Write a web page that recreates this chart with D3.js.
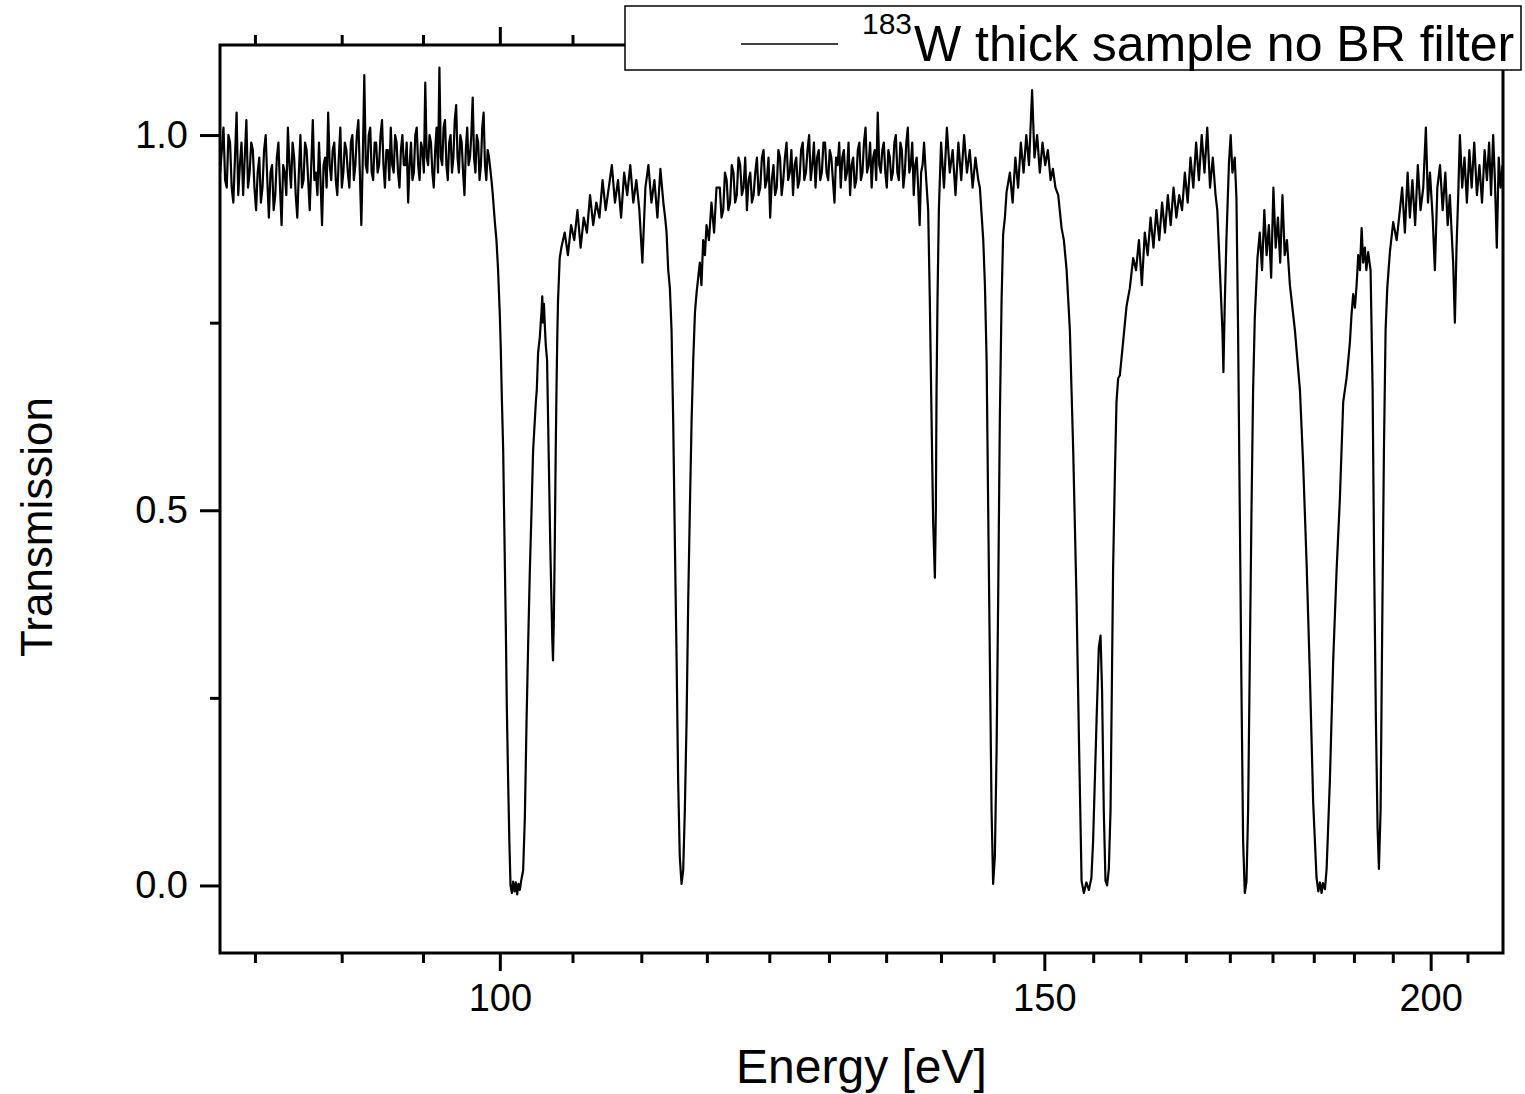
<!DOCTYPE html>
<html>
<head>
<meta charset="utf-8">
<script src="https://cdn.jsdelivr.net/npm/d3@7"></script>
<style>
  body { margin: 0; background: #fff; }
  text { font-family: "Liberation Sans", Arial, sans-serif; fill: #000; }
</style>
</head>
<body>
<div id="chart"></div>
<script>

// energy axis values [eV]
const energy = [
    // flat region below the first resonance
    81.2, 81.3, 81.4, 81.5, 81.6, 81.7, 81.8, 81.9, 82.0, 82.1, 82.2, 82.3, 82.4, 82.5, 82.6, 82.7, 82.8, 82.9, 83.0, 83.1,
    83.2, 83.3, 83.4, 83.5, 83.6, 83.7, 83.8, 83.9, 84.0, 84.1, 84.2, 84.3, 84.4, 84.5, 84.6, 84.7, 84.8, 84.9, 85.0, 85.1,
    85.2, 85.3, 85.4, 85.5, 85.6, 85.7, 85.8, 85.9, 86.0, 86.1, 86.2, 86.3, 86.4, 86.5, 86.6, 86.7, 86.8, 86.9, 87.0, 87.1,
    87.2, 87.3, 87.4, 87.5, 87.6, 87.7, 87.8, 87.9, 88.0, 88.1, 88.2, 88.3, 88.4, 88.5, 88.6, 88.7, 88.8, 88.9, 89.0, 89.1,
    89.2, 89.3, 89.4, 89.5, 89.6, 89.7, 89.8, 89.9, 90.0, 90.1, 90.2, 90.3, 90.4, 90.5, 90.6, 90.7, 90.8, 90.9, 91.0, 91.1,
    91.2, 91.3, 91.4, 91.5, 91.6, 91.7, 91.8, 91.9, 92.0, 92.1, 92.2, 92.3, 92.4, 92.5, 92.6, 92.7, 92.8, 92.9, 93.0, 93.1,
    93.2, 93.3, 93.4, 93.5, 93.6, 93.7, 93.8, 93.9, 94.0, 94.1, 94.2, 94.3, 94.4, 94.5, 94.6, 94.7, 94.8, 94.9, 95.0, 95.1,
    95.2, 95.3, 95.4, 95.5, 95.6, 95.7, 95.8, 95.9, 96.0, 96.1, 96.2, 96.3, 96.4, 96.5, 96.6, 96.7, 96.8, 96.9, 97.0, 97.1,
    97.2, 97.3, 97.4, 97.5, 97.6, 97.7, 97.8, 97.9, 98.0, 98.1, 98.2, 98.3, 98.4, 98.5, 98.6, 98.7, 98.8, 98.9, 99.0, 99.1,
    99.2,
    // double dip ~101 / 104 eV
    99.38, 99.48, 99.63, 99.75, 99.87, 100.0, 100.07, 100.15, 100.25, 100.34,
    100.45, 100.52, 100.62, 100.71, 100.8, 100.9, 101.0, 101.1, 101.2, 101.3,
    101.4, 101.5, 101.6, 101.75, 101.88, 102.01, 102.13, 102.26, 102.39, 102.51,
    102.64, 102.72, 102.79, 102.89, 103.02, 103.15, 103.21, 103.27, 103.34, 103.41,
    103.48, 103.58, 103.66, 103.74, 103.83, 103.92, 103.98, 104.04, 104.11, 104.18,
    104.25, 104.31, 104.37, 104.43, 104.56, 104.69, 104.82,
    // plateau
    104.95, 105.2, 105.45, 105.7, 105.95, 106.2, 106.45, 106.7, 106.95, 107.2,
    107.45, 107.7, 107.95, 108.2, 108.45, 108.7, 108.95, 109.2, 109.45, 109.7,
    109.95, 110.2, 110.45, 110.7, 110.95, 111.2, 111.45, 111.7, 111.95, 112.2,
    112.45, 112.7, 112.95, 113.1,
    // dip ~114.5 eV
    113.22, 113.36, 113.5, 113.64, 113.78, 113.92, 114.07, 114.2, 114.34, 114.49,
    114.63, 114.77, 114.92, 115.06, 115.2, 115.35, 115.49, 115.64, 115.78, 116.06,
    116.2, 116.35, 116.5, 116.64, 116.85, 117.07, 117.3, 117.51,
    // long plateau
    117.8, 117.95, 118.1, 118.25, 118.4, 118.55, 118.7, 118.85, 119.0, 119.15, 119.3, 119.45, 119.6, 119.75, 119.9, 120.05, 120.2, 120.35, 120.5, 120.65,
    120.8, 120.95, 121.1, 121.25, 121.4, 121.55, 121.7, 121.85, 122.0, 122.15, 122.3, 122.45, 122.6, 122.75, 122.9, 123.05, 123.2, 123.35, 123.5, 123.65,
    123.8, 123.95, 124.1, 124.25, 124.4, 124.55, 124.7, 124.85, 125.0, 125.15, 125.3, 125.45, 125.6, 125.75, 125.9, 126.05, 126.2, 126.35, 126.5, 126.65,
    126.8, 126.95, 127.1, 127.25, 127.4, 127.55, 127.7, 127.85, 128.0, 128.15, 128.3, 128.45, 128.6, 128.75, 128.9, 129.05, 129.2, 129.35, 129.5, 129.65,
    129.8, 129.95, 130.1, 130.25, 130.4, 130.55, 130.7, 130.85, 131.0, 131.15, 131.3, 131.45, 131.6, 131.75, 131.9, 132.05, 132.2, 132.35, 132.5, 132.65,
    132.8, 132.95, 133.1, 133.25, 133.4, 133.55, 133.7, 133.85, 134.0, 134.15, 134.3, 134.45, 134.6, 134.75, 134.9, 135.05, 135.2, 135.35, 135.5, 135.65,
    135.8, 135.95, 136.1, 136.25, 136.4, 136.55, 136.7, 136.85, 137.0, 137.15, 137.3,
    // narrow dip ~138.3 eV
    137.57, 137.74, 137.92, 138.08, 138.26, 138.36, 138.43, 138.53, 138.67,
    138.9, 139.2, 139.5, 139.8, 140.1, 140.4, 140.7, 141.0, 141.3, 141.6,
    141.9, 142.2, 142.5, 142.8,
    // dip ~144.4 eV
    142.97, 143.33, 143.51, 143.69, 143.86, 144.04, 144.22, 144.39, 144.58, 144.76,
    144.93, 145.11, 145.3, 145.47, 145.66, 145.84,
    // hump then doublet ~154.5 / 157.2 eV
    146.2, 146.5, 146.8, 147.1, 147.4, 147.7, 148.0, 148.3, 148.64, 148.9,
    149.2, 149.5, 149.8, 150.1, 150.4, 150.7, 150.96, 151.25, 151.56, 151.94,
    152.2, 152.51, 152.88, 153.26, 153.64, 153.94, 154.22, 154.48, 154.77, 155.06,
    155.35, 155.55, 155.95, 156.21, 156.41, 156.59, 156.79, 156.99, 157.18, 157.38,
    157.58, 157.73, 157.88, 158.08, 158.28, 158.48, 158.68, 159.06, 159.47, 159.86,
    160.26,
    // rising plateau
    160.6, 160.95, 161.3, 161.65, 162.0, 162.35, 162.7, 163.05, 163.4, 163.75,
    164.1, 164.45, 164.8, 165.15, 165.5, 165.85, 166.2, 166.55, 166.9, 167.25,
    167.6, 167.95, 168.3, 168.65, 169.0, 169.35, 169.7, 170.05, 170.4,
    // small dip ~171.4 eV and dip ~174.2 eV
    170.62, 170.95, 171.27, 171.4, 171.56, 171.78, 172.11, 172.33, 172.55, 172.85,
    173.07, 173.28, 173.5, 173.72, 173.93, 174.15, 174.37, 174.58, 174.8, 175.02,
    175.23, 175.45, 175.8,
    // plateau, wide dip ~184.5 eV, narrow dip ~192.4 eV
    176.1, 176.4, 176.7, 177.0, 177.3, 177.6, 177.9, 178.2, 178.5, 178.8,
    179.1, 179.4, 179.7, 180.1, 180.77, 181.45, 181.89, 182.35, 182.8, 183.25,
    183.71, 183.95, 184.17, 184.4, 184.58, 184.86, 185.09, 185.54, 186.0, 186.47,
    186.93, 187.39, 187.86, 188.1, 188.33, 188.55, 188.79, 189.03, 189.27, 189.5,
    189.74, 189.98, 190.2, 190.44, 190.65, 190.91, 191.1, 191.25, 191.54, 191.77,
    192.01, 192.25, 192.44, 192.68, 192.91, 193.16, 193.4, 193.64, 194.02, 194.5,
    195.0, 195.47,
    // last plateau with the small dip ~203.6 eV
    195.8, 196.2, 196.6, 196.93, 197.3, 197.7, 198.1, 198.5, 198.9, 199.29,
    199.6, 199.9, 200.3, 200.63, 201.0, 201.4, 201.8, 202.2, 202.55, 202.88,
    203.15, 203.38, 203.64, 203.89, 204.15, 204.4, 204.75, 205.1, 205.47, 205.85,
    206.2, 206.6, 207.01, 207.4, 207.8, 208.2, 208.56, 208.9, 209.2, 209.53,
    209.8, 210.1, 210.4, 210.7, 211.0
];

// transmission values, same order as energy
const transmission = [
    0.95, 0.98, 1.01, 0.94, 0.93, 1.00, 0.99, 0.93, 0.91, 0.97, 1.03, 0.92, 0.96, 0.99, 0.92, 0.97, 1.02, 0.93, 0.95, 0.99,
    0.98, 0.93, 0.90, 0.95, 0.97, 0.91, 0.93, 0.98, 1.00, 0.94, 0.89, 0.95, 0.96, 0.90, 0.92, 0.97, 0.99, 0.93, 0.88, 0.96,
    0.95, 0.92, 1.01, 0.96, 0.93, 0.99, 0.97, 0.92, 0.89, 0.95, 1.00, 0.93, 0.94, 0.99, 0.98, 0.94, 0.90, 0.96, 1.02, 0.94,
    0.95, 0.92, 0.99, 0.94, 0.88, 0.96, 0.97, 0.93, 1.03, 0.96, 0.94, 0.98, 0.99, 0.94, 0.92, 0.97, 1.01, 0.93, 0.95, 0.99,
    0.98, 0.95, 0.93, 0.99, 1.00, 0.94, 0.96, 1.00, 1.02, 0.95, 0.88, 0.97, 1.08, 0.96, 0.95, 1.00, 1.01, 0.95, 0.94, 0.99,
    0.99, 0.95, 0.96, 1.00, 1.02, 0.96, 0.93, 0.98, 0.98, 0.94, 1.01, 0.96, 0.95, 1.00, 0.99, 0.95, 0.93, 0.98, 1.00, 0.96,
    0.96, 0.99, 0.91, 0.96, 0.99, 0.94, 0.95, 1.00, 1.01, 0.96, 0.94, 0.99, 0.98, 0.95, 1.07, 0.97, 0.96, 1.00, 0.99, 0.95,
    0.93, 0.98, 1.01, 0.95, 1.09, 0.97, 0.96, 1.01, 1.02, 0.96, 0.94, 0.99, 1.00, 0.95, 0.97, 1.02, 1.04, 0.97, 0.95, 1.00,
    0.99, 0.95, 0.92, 0.98, 1.01, 0.96, 0.97, 1.00, 1.05, 0.97, 0.95, 1.00, 0.99, 0.94, 0.96, 1.01, 1.03, 0.96, 0.94, 0.98,
    0.97,

    0.94, 0.92, 0.884, 0.86, 0.82, 0.76, 0.716, 0.65, 0.58, 0.47,
    0.34, 0.24, 0.14, 0.06, 0.0, -0.01, 0.005, -0.008, 0.004, -0.012,
    0.002, -0.006, 0.006, 0.02, 0.09, 0.22, 0.32, 0.42, 0.50, 0.58,
    0.62, 0.645, 0.66, 0.71, 0.73, 0.764, 0.785, 0.75, 0.775, 0.745,
    0.72, 0.70, 0.62, 0.54, 0.45, 0.38, 0.33, 0.30, 0.36, 0.46,
    0.58, 0.66, 0.73, 0.78, 0.836, 0.85, 0.86,

    0.87, 0.84, 0.88, 0.86, 0.90, 0.85, 0.89, 0.87, 0.92, 0.88,
    0.91, 0.89, 0.94, 0.90, 0.93, 0.96, 0.91, 0.94, 0.89, 0.95,
    0.92, 0.96, 0.91, 0.94, 0.90, 0.83, 0.93, 0.96, 0.91, 0.94,
    0.89, 0.955, 0.91, 0.89,

    0.87, 0.82, 0.796, 0.74, 0.62, 0.46, 0.30, 0.14, 0.038, 0.002,
    0.02, 0.10, 0.22, 0.38, 0.50, 0.62, 0.70, 0.764, 0.79, 0.83,
    0.80, 0.86, 0.84, 0.88, 0.86, 0.91, 0.87, 0.93,

    0.93, 0.89, 0.90, 0.95, 0.94, 0.90, 0.91, 0.96, 0.95, 0.91, 0.92, 0.97, 0.96, 0.92, 0.93, 0.97, 0.90, 0.94, 0.95, 0.91,
    0.92, 0.95, 0.97, 0.92, 0.93, 0.97, 0.98, 0.93, 0.94, 0.97, 0.89, 0.94, 0.96, 0.92, 0.93, 0.98, 0.97, 0.92, 0.94, 0.97,
    0.99, 0.94, 0.95, 0.98, 0.92, 0.96, 0.97, 0.93, 0.94, 0.98, 0.99, 0.94, 0.95, 0.98, 1.00, 0.94, 0.96, 0.99, 0.93, 0.97,
    0.98, 0.94, 0.95, 0.99, 0.99, 0.95, 0.94, 0.98, 0.97, 0.94, 0.91, 0.97, 0.96, 0.99, 0.93, 0.97, 0.98, 0.94, 0.95, 0.99,
    0.92, 0.96, 0.97, 0.93, 0.94, 0.98, 0.99, 0.94, 0.95, 0.99, 1.01, 0.95, 0.96, 0.99, 0.93, 0.97, 0.98, 0.94, 1.03, 0.96,
    0.95, 0.98, 0.99, 0.95, 0.93, 0.98, 0.97, 0.94, 0.95, 0.99, 1.00, 0.95, 0.94, 0.99, 0.98, 0.93, 0.95, 0.99, 1.01, 0.95,
    0.96, 0.99, 0.92, 0.96, 0.97, 0.93, 0.88, 0.95, 0.96, 0.99, 0.955,

    0.90, 0.78, 0.62, 0.485, 0.41, 0.50, 0.66, 0.78, 0.90,
    0.99, 0.93, 1.01, 0.95, 0.98, 0.92, 0.99, 0.94, 1.00, 0.95,
    0.98, 0.93, 0.97, 0.94,

    0.93, 0.86, 0.80, 0.70, 0.50, 0.30, 0.10, 0.002, 0.04, 0.18,
    0.38, 0.62, 0.78, 0.868, 0.89, 0.924,

    0.95, 0.91, 0.97, 0.93, 0.99, 0.95, 1.00, 0.96, 1.06, 0.97,
    1.00, 0.95, 0.99, 0.96, 0.98, 0.94, 0.955, 0.93, 0.92, 0.876,
    0.86, 0.82, 0.74, 0.58, 0.38, 0.18, 0.006, -0.01, 0.004, -0.006,
    0.01, 0.06, 0.22, 0.317, 0.333, 0.26, 0.10, 0.006, 0.0, 0.022,
    0.10, 0.26, 0.42, 0.54, 0.644, 0.676, 0.68, 0.724, 0.772, 0.796,
    0.836,

    0.82, 0.86, 0.80, 0.87, 0.84, 0.89, 0.85, 0.90, 0.86, 0.91,
    0.87, 0.92, 0.88, 0.93, 0.89, 0.92, 0.90, 0.95, 0.91, 0.97,
    0.93, 0.99, 0.94, 1.00, 0.95, 1.01, 0.93, 0.97, 0.92,

    0.90, 0.82, 0.74, 0.684, 0.77, 0.86, 0.963, 1.00, 0.95, 0.97,
    0.916, 0.74, 0.50, 0.26, 0.06, -0.01, 0.005, 0.10, 0.30, 0.50,
    0.66, 0.756, 0.836,

    0.87, 0.82, 0.90, 0.84, 0.88, 0.81, 0.93, 0.85, 0.89, 0.83,
    0.92, 0.84, 0.86, 0.80, 0.74, 0.66, 0.56, 0.43, 0.28, 0.11,
    0.01, -0.008, 0.004, -0.01, 0.003, -0.005, 0.022, 0.14, 0.30, 0.42,
    0.516, 0.644, 0.676, 0.70, 0.724, 0.76, 0.788, 0.77, 0.80, 0.84,
    0.82, 0.876, 0.83, 0.85, 0.82, 0.844, 0.83, 0.82, 0.66, 0.42,
    0.22, 0.077, 0.022, 0.10, 0.34, 0.58, 0.74, 0.796, 0.844, 0.884,
    0.86, 0.90,

    0.93, 0.87, 0.95, 0.89, 0.94, 0.88, 0.96, 0.90, 0.93, 1.01,
    0.91, 0.95, 0.89, 0.82, 0.93, 0.96, 0.90, 0.95, 0.88, 0.92,
    0.87, 0.83, 0.75, 0.85, 0.92, 1.00, 0.93, 0.97, 0.91, 0.98,
    0.93, 0.99, 0.92, 0.96, 0.91, 0.98, 0.94, 0.99, 0.92, 1.00,
    0.94, 0.85, 0.97, 0.93, 0.96
];

// axes
const xDomain = [81.19, 211.07];
const yDomain = [-0.09, 1.12];
const xMajorTicks = [100, 150, 200];
const xMinorTicks = [83.33, 88.89, 94.44, 105.56, 111.11, 116.67, 122.22, 127.78, 133.33, 138.89,
    144.44, 155.56, 161.11, 166.67, 172.22, 177.78, 183.33, 188.89, 194.44, 205.56];
const yMajorTicks = [0, 0.5, 1.0];
const yMinorTicks = [0.25, 0.75];

const xTitle = "Energy [eV]";
const yTitle = "Transmission";
const legendSup = "183";
const legendLabel = "W thick sample no BR filter";

if (energy.length !== transmission.length) {
    throw new Error("length mismatch " + energy.length + " vs " + transmission.length);
}
const data = energy.map((e, i) => [e, transmission[i]]);

// set the dimensions and margins of the graph
const W = 1525, H = 1094;
const margin = { top: 45, right: 22, bottom: 141, left: 220 },
    width = W - margin.left - margin.right,
    height = H - margin.top - margin.bottom;

const root = d3.select("#chart")
    .append("svg")
    .attr("width", W)
    .attr("height", H);

const svg = root.append("g")
    .attr("transform", `translate(${margin.left}, ${margin.top})`);

// Scales
const x = d3.scaleLog().domain(xDomain).range([0, width]);
const y = d3.scaleLinear().domain(yDomain).range([height, 0]);

// clip for the curve
svg.append("clipPath").attr("id", "plotclip")
    .append("rect").attr("width", width).attr("height", height);

// the spectrum
svg.append("path")
    .datum(data)
    .attr("clip-path", "url(#plotclip)")
    .attr("fill", "none")
    .attr("stroke", "#000")
    .attr("stroke-width", 2.2)
    .attr("stroke-linejoin", "round")
    .attr("d", d3.line().x(d => x(d[0])).y(d => y(d[1])));

// helper to style an axis group
function styleAxis(g) {
    g.select(".domain").remove();
    g.selectAll(".tick line").attr("stroke", "#000").attr("stroke-width", 3);
    g.selectAll("text").style("font-size", "38px").attr("fill", "#000");
}

// bottom axis
svg.append("g").attr("transform", `translate(0,${height})`)
    .call(d3.axisBottom(x).tickValues(xMajorTicks).tickSize(18).tickPadding(13).tickFormat(d3.format("d")))
    .call(styleAxis);
svg.append("g").attr("transform", `translate(0,${height})`)
    .call(d3.axisBottom(x).tickValues(xMinorTicks).tickSize(10).tickFormat(""))
    .call(styleAxis);

// top axis, ticks only
svg.append("g")
    .call(d3.axisTop(x).tickValues(xMajorTicks).tickSize(18).tickFormat(""))
    .call(styleAxis);
svg.append("g")
    .call(d3.axisTop(x).tickValues(xMinorTicks).tickSize(10).tickFormat(""))
    .call(styleAxis);

// left axis
svg.append("g")
    .call(d3.axisLeft(y).tickValues(yMajorTicks).tickSize(20).tickPadding(12).tickFormat(d3.format(".1f")))
    .call(styleAxis);
svg.append("g")
    .call(d3.axisLeft(y).tickValues(yMinorTicks).tickSize(10).tickFormat(""))
    .call(styleAxis);

// frame
svg.append("rect")
    .attr("width", width)
    .attr("height", height)
    .attr("fill", "none")
    .attr("stroke", "#000")
    .attr("stroke-width", 3);

// axis titles
svg.append("text")
    .attr("x", width / 2)
    .attr("y", height + 130)
    .attr("text-anchor", "middle")
    .style("font-size", "48px")
    .text(xTitle);

svg.append("text")
    .attr("transform", `translate(${-168}, ${482}) rotate(-90)`)
    .attr("text-anchor", "middle")
    .style("font-size", "44px")
    .text(yTitle);

// legend box (page coordinates)
const legend = root.append("g");
legend.append("rect")
    .attr("x", 625).attr("y", 6)
    .attr("width", 896).attr("height", 64)
    .attr("fill", "#fff")
    .attr("stroke", "#000")
    .attr("stroke-width", 1.5);
legend.append("line")
    .attr("x1", 741).attr("x2", 838)
    .attr("y1", 44).attr("y2", 44)
    .attr("stroke", "#000")
    .attr("stroke-width", 1.5);
legend.append("text")
    .attr("x", 862).attr("y", 34)
    .style("font-size", "30px")
    .text(legendSup);
legend.append("text")
    .attr("x", 914).attr("y", 61)
    .style("font-size", "50px")
    .text(legendLabel);

</script>
</body>
</html>
